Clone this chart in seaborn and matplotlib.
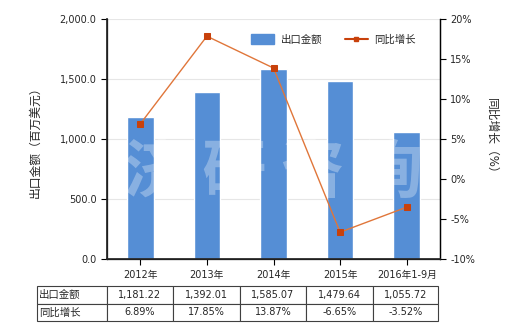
import matplotlib
matplotlib.use("Agg")
import matplotlib.pyplot as plt
import matplotlib.ticker as mticker
from matplotlib.lines import Line2D
from matplotlib.patches import Patch
import seaborn as sns
import pandas as pd

categories = ["2012年", "2013年", "2014年", "2015年", "2016年1-9月"]
export_values = [1181.22, 1392.01, 1585.07, 1479.64, 1055.72]
yoy_growth = [6.89, 17.85, 13.87, -6.65, -3.52]
export_labels = ["1,181.22", "1,392.01", "1,585.07", "1,479.64", "1,055.72"]
growth_labels = ["6.89%", "17.85%", "13.87%", "-6.65%", "-3.52%"]
series_names = ["出口金额", "同比增长"]

sns.set_theme(style="white")
FAM = ["DejaVu Sans", "Noto Sans CJK SC"]
plt.rcParams["font.family"] = FAM
plt.rcParams["axes.unicode_minus"] = False

BAR = "#558ED5"
LINE = "#E0763A"
MK = "#C8410B"
FS = 7

df = pd.DataFrame({"cat": categories, "val": export_values, "yoy": yoy_growth})

fig = plt.figure(figsize=(5.2, 3.3), dpi=100)
ax = fig.add_axes([107 / 520, 1 - 259 / 330, 333 / 520, 240 / 330])

sns.barplot(data=df, x="cat", y="val", color=BAR, width=0.4, saturation=1, ax=ax, zorder=2)
ax.set_ylim(0, 2000)
ax.set_xlim(-0.5, 4.5)
ax.yaxis.set_major_locator(mticker.MultipleLocator(500))
ax.yaxis.set_major_formatter(mticker.FuncFormatter(lambda v, p: f"{v:,.1f}"))
ax.grid(axis="y", color="#E6E6E6", linewidth=0.8, zorder=0)
ax.set_axisbelow(True)
ax.set_xlabel("")
ax.set_ylabel("出口金额（百万美元）", fontsize=8.5, labelpad=13)
ax.spines["top"].set_visible(False)
for s in ["left", "bottom", "right"]:
    ax.spines[s].set_color("black")
    ax.spines[s].set_linewidth(0.9)
ax.tick_params(axis="both", labelsize=FS, length=4, width=0.8, color="black", direction="out",
               bottom=True, left=True)
ax.tick_params(axis="x", pad=4)

# watermark
ax.text(0.5, 0.36, "济 研 咨 询", transform=ax.transAxes, ha="center", va="center",
        fontsize=46, fontweight="bold", color="white", alpha=0.3, zorder=3,
        family=["Noto Sans CJK SC"])

ax2 = ax.twinx()
sns.pointplot(data=df, x="cat", y="yoy", color=LINE, markers="s", markersize=4.5,
              linewidth=1, ax=ax2, zorder=4)
for ln in ax2.lines:
    ln.set_markerfacecolor(MK)
    ln.set_markeredgecolor(MK)
ax2.set_ylim(-10, 20)
ax2.set_xlim(-0.5, 4.5)
ax2.yaxis.set_major_locator(mticker.MultipleLocator(5))
ax2.yaxis.set_major_formatter(mticker.FuncFormatter(lambda v, p: f"{v:.0f}%"))
ax2.set_ylabel("同比增长（%）", fontsize=8.5, rotation=-90, labelpad=7, va="bottom")
ax2.grid(False)
ax2.spines["top"].set_visible(False)
ax2.spines["right"].set_color("black")
ax2.spines["right"].set_linewidth(0.9)
ax2.tick_params(axis="y", labelsize=FS, length=4, width=0.8, color="black", direction="out", right=True)
ax2.set_xlabel("")

handles = [Patch(facecolor=BAR, edgecolor=BAR),
           Line2D([0], [0], color=MK, lw=1.5, marker="s", markersize=3.5, markerfacecolor=MK)]
ax2.legend(handles, series_names, loc="upper right", bbox_to_anchor=(0.955, 0.975), ncol=2,
           frameon=False, fontsize=7.5, handlelength=2.2, handleheight=1.0, columnspacing=2.2,
           handletextpad=0.6)

# table
cell_text = [[series_names[0]] + export_labels, [series_names[1]] + growth_labels]
widths = [70, 66, 67, 66, 67, 65]
tot = sum(widths)
tb = ax.table(cellText=cell_text, cellLoc="center", colWidths=[w / tot for w in widths],
              bbox=[(37 - 107) / 333, (259 - 321) / 240, tot / 333, 35 / 240])
tb.auto_set_font_size(False)
tb.set_fontsize(FS)
for (r, c), cell in tb.get_celld().items():
    cell.set_edgecolor("#404040")
    cell.set_linewidth(0.8)
    if c == 0:
        cell.PAD = 0.03
        cell.get_text().set_horizontalalignment("left")
        cell.get_text().set_fontsize(7.5)

fig.savefig("out.png", dpi=100)
